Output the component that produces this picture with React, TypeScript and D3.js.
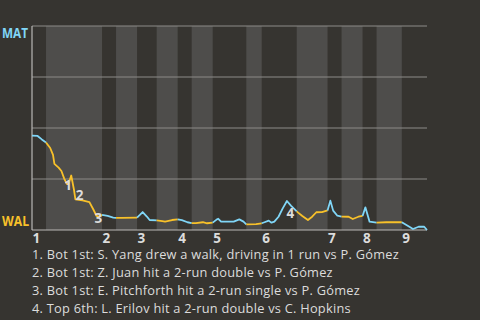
import React from "react";
import * as d3 from "d3";

// Pitch count at the end of each half-inning (top 1st, bot 1st, top 2nd, ...)
const HALF_ENDS = [10, 50, 60, 75, 89, 104, 114, 129, 153, 164, 189, 211, 221, 236, 246, 264, 282];
const INNINGS = ["1", "2", "3", "4", "5", "6", "7", "8", "9"];

// Win probability for MAT (%) after each event, by pitch count
const PITCH = [
  0, 4, 7, 10, 13, 15, 16, 19, 21, 23, 25, 26, 28, 30, 31, 36, 41, 44, 46, 48, 50,
  54, 58, 60, 64, 75, 77, 79, 82, 84, 89, 93, 95, 100, 104, 107, 111, 114, 117, 122,
  125, 129, 132, 133, 135, 144, 148, 151, 153, 160, 164, 166, 169, 171, 173, 176, 179,
  182, 185, 189, 190, 193, 197, 200, 203, 207, 211, 213, 215, 218, 221, 226, 229, 233,
  236, 238, 241, 246, 253, 264, 270, 272, 276, 280, 282,
];
const MAT_WIN = [
  46.3, 46.1, 44.4, 42.9, 40.2, 36.8, 32.4, 30.6, 28.9, 25.2, 22.5, 22.5, 26.7, 19.6,
  15.0, 14.5, 13.7, 9.8, 6.9, 6.6, 7.4, 6.9, 6.1, 5.9, 5.9, 6.1, 7.4, 8.8, 6.6, 4.9,
  4.7, 4.4, 4.1, 4.9, 5.2, 4.8, 3.8, 3.4, 3.4, 3.8, 3.3, 3.6, 5.2, 5.5, 4.1, 4.1, 5.2,
  4.1, 2.8, 2.9, 3.3, 3.8, 4.6, 3.6, 4.1, 6.5, 10.6, 14.2, 11.8, 9.1, 8.5, 6.9, 4.9,
  6.5, 8.7, 8.8, 9.6, 14.4, 9.5, 7.0, 6.6, 6.5, 5.4, 6.5, 6.9, 11.1, 4.1, 3.6, 3.8,
  3.8, 1.3, 0.5, 1.6, 1.6, 0.0,
];

const ANNOTATION_POINTS = [10, 13, 18, 57];
const ANNOTATION_TEXT = [
  "1. Bot 1st: S. Yang drew a walk, driving in 1 run vs P. Gómez",
  "2. Bot 1st: Z. Juan hit a 2-run double vs P. Gómez",
  "3. Bot 1st: E. Pitchforth hit a 2-run single vs P. Gómez",
  "4. Top 6th: L. Erilov hit a 2-run double vs C. Hopkins",
];
const TEAM_TOP = "MAT";
const TEAM_BOTTOM = "WAL";

// layout / style
const W = 480, H = 320;
const M = { left: 32, right: 53, top: 26, bottom: 90 };
const LABEL_OFFSETS: [number, number][] = [[1, 5.5], [5.5, 10], [2, 7], [3.5, 17]];
const BG = "#363430";
const BAND = "#4e4d4b";
const GRID = "#8c8b88";
const AXIS = "#b9b8b5";
const BLUE = "#80d6f7";
const GOLD = "#f8c12a";
const TEXT = "#dcdcdc";
const FONT = "'Open Sans', 'Noto Sans', sans-serif";

export default function App() {
  const x = d3.scaleLinear().domain([0, HALF_ENDS[HALF_ENDS.length - 1]]).range([M.left, W - M.right]);
  const y = d3.scaleLinear().domain([0, 100]).range([H - M.bottom, M.top]);

  const halfStarts = HALF_ENDS.map((e, i) => (i === 0 ? 0 : HALF_ENDS[i - 1]));
  const halfOf = (p: number) => {
    const h = HALF_ENDS.findIndex((e) => p <= e);
    return h < 0 ? HALF_ENDS.length - 1 : h;
  };

  const pts = PITCH.map((p, i) => ({ p, v: MAT_WIN[i], h: halfOf(p) }));
  const runs: { top: boolean; pts: typeof pts }[] = [];
  for (let i = 1; i < pts.length; i++) {
    const top = pts[i].h % 2 === 0;
    const last = runs[runs.length - 1];
    if (last && last.top === top) last.pts.push(pts[i]);
    else runs.push({ top, pts: [pts[i - 1], pts[i]] });
  }
  const line = d3.line<{ p: number; v: number }>().x((d) => x(d.p)).y((d) => y(d.v));

  const yTicks = [0, 25, 50, 75, 100];
  const xEnd = x(HALF_ENDS[HALF_ENDS.length - 1]);

  return (
    <svg width={W} height={H} style={{ display: "block", position: "absolute", left: 0, top: 0, background: BG }}>
      <rect x={0} y={0} width={W} height={H} fill={BG} />
      {HALF_ENDS.map((e, i) =>
        i % 2 === 1 ? (
          <rect key={i} x={x(halfStarts[i])} y={y(100)} width={x(e) - x(halfStarts[i])} height={y(0) - y(100)} fill={BAND} />
        ) : null
      )}
      {yTicks.slice(1).map((t) => (
        <line key={t} x1={x(0)} x2={xEnd} y1={y(t)} y2={y(t)} stroke={GRID} strokeWidth={1} />
      ))}
      <line x1={x(0)} x2={x(0)} y1={y(100)} y2={y(0)} stroke={AXIS} strokeWidth={1.2} />
      <line x1={x(0)} x2={xEnd} y1={y(0)} y2={y(0)} stroke={AXIS} strokeWidth={1.2} />
      {runs.map((r, i) => (
        <path key={i} d={line(r.pts) || ""} fill="none" stroke={r.top ? BLUE : GOLD} strokeWidth={1.8} strokeLinejoin="round" />
      ))}
      {ANNOTATION_POINTS.map((pi, i) => (
        <text key={i} x={x(PITCH[pi]) + LABEL_OFFSETS[i][0]} y={y(MAT_WIN[pi]) + LABEL_OFFSETS[i][1]} textAnchor="middle"
          fontFamily={FONT} fontWeight="bold" fontSize={13.5} fill={TEXT}>{i + 1}</text>
      ))}
      {INNINGS.map((lab, i) => (
        <text key={lab} x={x(halfStarts[i * 2]) + 0.5} y={y(0) + 13} fontFamily={FONT} fontWeight="bold" fontSize={13.5} fill={TEXT}>{lab}</text>
      ))}
      <text x={2} y={y(100) + 12} textLength={26} lengthAdjust="spacingAndGlyphs" fontFamily={FONT} fontWeight="bold" fontSize={14} fill={BLUE}>{TEAM_TOP}</text>
      <text x={2} y={y(0) - 4} textLength={27} lengthAdjust="spacingAndGlyphs" fontFamily={FONT} fontWeight="bold" fontSize={14} fill={GOLD}>{TEAM_BOTTOM}</text>
      {ANNOTATION_TEXT.map((t, i) => (
        <text key={i} x={x(0)} y={258.5 + i * 18} fontFamily={FONT} fontSize={12.8} letterSpacing={0.25} fill={TEXT}>{t}</text>
      ))}
    </svg>
  );
}
